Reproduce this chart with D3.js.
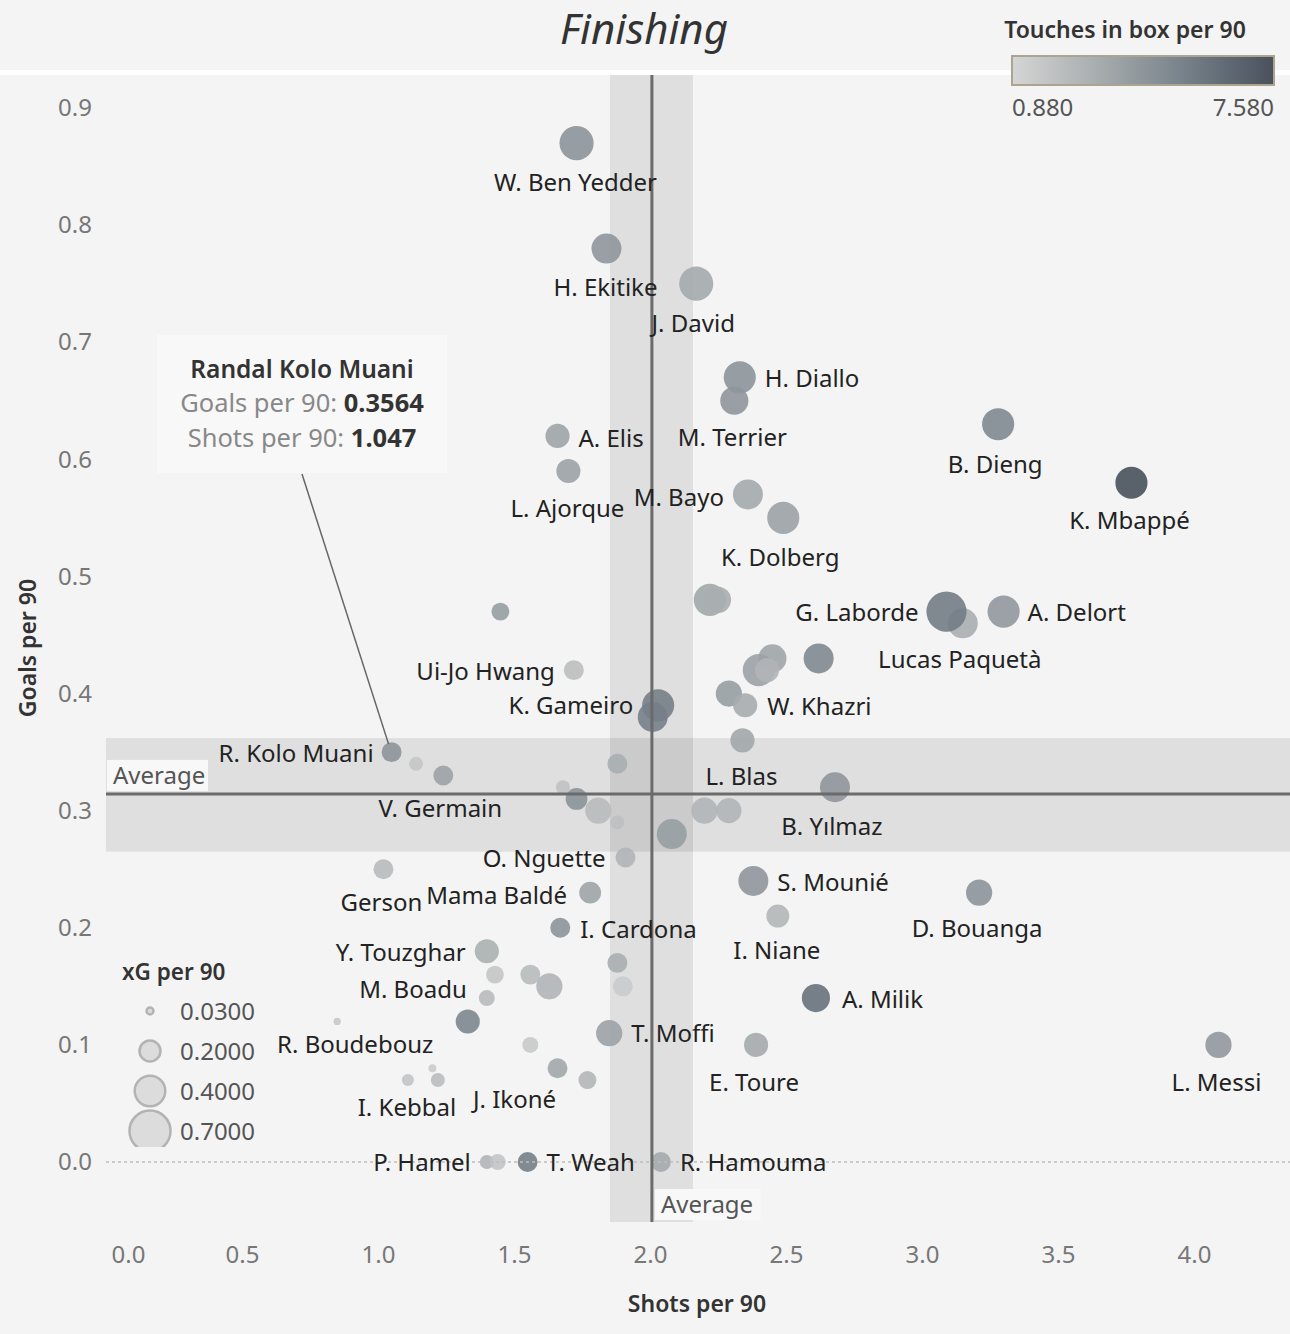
<!DOCTYPE html>
<html>
<head>
<meta charset="utf-8">
<script src="https://cdn.jsdelivr.net/npm/d3@7"></script>
<style>
  html, body { margin: 0; padding: 0; background: #f4f4f4; }
  svg { display: block; }
  text { font-family: "Noto Sans", "Open Sans", sans-serif; }
</style>
</head>
<body>
<svg id="chart" width="1290" height="1334"></svg>
<script>
// ---------------- DATA ----------------
const players = ["W. Ben Yedder","H. Ekitike","J. David","H. Diallo","M. Terrier","B. Dieng","K. Mbappé","A. Elis","L. Ajorque","M. Bayo",
  "K. Dolberg","","","","Lucas Paquetà","G. Laborde","A. Delort","","","",
  "","","W. Khazri","Ui-Jo Hwang","","K. Gameiro","L. Blas","R. Kolo Muani","","V. Germain",
  "","","","","","","","","B. Yılmaz","O. Nguette",
  "Gerson","Mama Baldé","S. Mounié","D. Bouanga","I. Niane","I. Cardona","Y. Touzghar","","","",
  "M. Boadu","","","J. Ikoné","","","","","","T. Moffi",
  "R. Boudebouz","I. Kebbal","A. Milik","E. Toure","L. Messi","P. Hamel","","T. Weah","R. Hamouma"];
const shotsPer90 = [1.73,1.84,2.17,2.33,2.31,3.28,3.77,1.66,1.70,2.36,
  2.49,1.45,2.22,2.25,3.15,3.09,3.30,2.45,2.40,2.43,
  2.62,2.29,2.35,1.72,2.01,2.03,2.34,1.05,1.14,1.24,
  1.68,1.73,1.81,1.88,1.88,2.08,2.20,2.29,2.68,1.91,
  1.02,1.78,2.38,3.21,2.47,1.67,1.40,1.43,1.56,1.63,
  1.40,1.33,1.56,1.66,1.77,1.20,1.22,1.88,1.90,1.85,
  0.85,1.11,2.61,2.39,4.09,1.40,1.44,1.55,2.04];
const goalsPer90 = [0.87,0.78,0.75,0.67,0.65,0.63,0.58,0.62,0.59,0.57,
  0.55,0.47,0.48,0.48,0.46,0.47,0.47,0.43,0.42,0.42,
  0.43,0.40,0.39,0.42,0.38,0.39,0.36,0.35,0.34,0.33,
  0.32,0.31,0.30,0.29,0.34,0.28,0.30,0.30,0.32,0.26,
  0.25,0.23,0.24,0.23,0.21,0.20,0.18,0.16,0.16,0.15,
  0.14,0.12,0.10,0.08,0.07,0.08,0.07,0.17,0.15,0.11,
  0.12,0.07,0.14,0.10,0.10,0.00,0.00,0.00,0.00];
const xgPer90 = [0.44,0.34,0.44,0.39,0.30,0.39,0.39,0.22,0.22,0.34,
  0.39,0.12,0.39,0.26,0.34,0.61,0.39,0.30,0.39,0.22,
  0.34,0.26,0.22,0.15,0.34,0.39,0.22,0.15,0.074,0.15,
  0.074,0.18,0.26,0.074,0.15,0.34,0.26,0.24,0.34,0.15,
  0.15,0.18,0.34,0.26,0.20,0.15,0.22,0.12,0.15,0.26,
  0.097,0.22,0.097,0.15,0.123,0.024,0.074,0.15,0.15,0.26,
  0.02,0.055,0.30,0.22,0.26,0.074,0.097,0.15,0.15];
const touchesInBox = [4.3,4.2,3.2,4.3,4.2,4.9,7.58,3.5,3.6,3.2,
  3.6,3.8,3.3,3.0,3.0,5.5,4.1,3.4,3.6,2.6,
  4.9,3.8,3.1,2.1,5.3,5.4,3.3,4.3,1.7,3.6,
  1.9,4.4,2.3,2.0,3.0,3.8,2.6,2.6,4.2,2.6,
  2.3,3.5,4.2,4.3,2.5,4.3,2.9,1.7,2.3,2.6,
  2.3,5.0,1.5,3.3,2.5,1.4,2.2,3.0,1.4,3.6,
  1.6,1.8,6.0,3.2,4.1,2.6,1.8,5.4,3.2];
const xTicks = [0.0,0.5,1.0,1.5,2.0,2.5,3.0,3.5,4.0];
const yTicks = [0.0,0.1,0.2,0.3,0.4,0.5,0.6,0.7,0.8,0.9];
const avgShots = 2.007, avgShotsBand = [1.853, 2.158];
const avgGoals = 0.3143, avgGoalsBand = [0.265, 0.362];
const sizeLegendValues = [0.03, 0.2, 0.4, 0.7];
const colorDomain = [0.88, 7.58];
const highlight = {name: "Randal Kolo Muani", goals: "0.3564", shots: "1.047", ref: "R. Kolo Muani"};

// -------------- LAYOUT (label placement: dx, dy, anchor) --------------
const labelPlace = {
  "W. Ben Yedder":[-1,39,"middle"], "H. Ekitike":[-1,39,"middle"], "J. David":[-3,40,"middle"],
  "H. Diallo":[25,1,"start"], "M. Terrier":[-2,37,"middle"], "B. Dieng":[-3,40,"middle"],
  "K. Mbappé":[-2,38,"middle"], "A. Elis":[21,2,"start"], "L. Ajorque":[-1,37,"middle"],
  "M. Bayo":[-24,3,"end"], "K. Dolberg":[-3,39,"middle"], "G. Laborde":[-28,1,"end"],
  "Lucas Paquetà":[-3,36,"middle"], "A. Delort":[24,1,"start"], "Ui-Jo Hwang":[-19,1,"end"],
  "K. Gameiro":[-25,0,"end"], "W. Khazri":[22,1,"start"], "L. Blas":[-1,36,"middle"],
  "R. Kolo Muani":[-18,1,"end"], "V. Germain":[-3,33,"middle"], "B. Yılmaz":[-3,39,"middle"],
  "O. Nguette":[-20,1,"end"], "Gerson":[-2,33,"middle"], "Mama Baldé":[-23,3,"end"],
  "S. Mounié":[24,1,"start"], "D. Bouanga":[-2,36,"middle"], "I. Niane":[-1,34,"middle"],
  "I. Cardona":[20,2,"start"], "Y. Touzghar":[-21,1,"end"], "M. Boadu":[-20,-9,"end"],
  "R. Boudebouz":[18,23,"middle"], "T. Moffi":[22,0,"start"], "A. Milik":[26,1,"start"],
  "E. Toure":[-2,37,"middle"], "L. Messi":[-2,37,"middle"], "I. Kebbal":[-1,27,"middle"],
  "J. Ikoné":[-43,31,"middle"], "P. Hamel":[-16,0,"end"], "T. Weah":[19,0,"start"],
  "R. Hamouma":[19,0,"start"]
};

const W = 1290, H = 1334;
const FS = 24;
const plot = {left: 106, right: 1290, top: 75, bottom: 1222};
const svg = d3.select("#chart");

const x = d3.scaleLinear().domain([0, 4]).range([106, 1194]);
const y = d3.scaleLinear().domain([0, 0.9]).range([1162, 108]);
const r = d3.scaleSqrt().domain([0, 0.2]).range([0, 11.5]);
const colorInterp = d3.interpolateRgbBasis(["#d5d5d5", "#a7acad", "#75808a", "#48515c"]);
const color = d3.scaleSequential(colorInterp).domain(colorDomain);

const data = players.map((p, i) => ({name: p, shots: shotsPer90[i], goals: goalsPer90[i], xg: xgPer90[i], touches: touchesInBox[i]}));

// background
svg.append("rect").attr("width", W).attr("height", H).attr("fill", "#f4f4f4");

// title
svg.append("text").attr("x", 644).attr("y", 44).attr("text-anchor", "middle")
  .attr("font-size", 42).attr("font-style", "italic").attr("fill", "#333").text("Finishing");
// white separator
svg.append("rect").attr("x", 0).attr("y", 70).attr("width", W).attr("height", 5).attr("fill", "#ffffff");

// colour legend
svg.append("text").attr("x", 1125).attr("y", 38).attr("text-anchor", "middle")
  .attr("font-size", 23).attr("font-weight", 600).attr("fill", "#333").text("Touches in box per 90");
const defs = svg.append("defs");
const grad = defs.append("linearGradient").attr("id", "cgrad");
d3.range(0, 1.0001, 0.1).forEach(t => grad.append("stop").attr("offset", t).attr("stop-color", colorInterp(t)));
svg.append("rect").attr("x", 1012).attr("y", 56).attr("width", 262).attr("height", 29)
  .attr("fill", "url(#cgrad)").attr("stroke", "#aba58f").attr("stroke-width", 2);
svg.append("text").attr("x", 1012).attr("y", 116).attr("font-size", FS).attr("fill", "#555").text(d3.format(".3f")(colorDomain[0]));
svg.append("text").attr("x", 1274).attr("y", 116).attr("text-anchor", "end").attr("font-size", FS).attr("fill", "#555").text(d3.format(".3f")(colorDomain[1]));

// plot clip
defs.append("clipPath").attr("id", "plotclip").append("rect")
  .attr("x", plot.left).attr("y", plot.top).attr("width", plot.right - plot.left).attr("height", plot.bottom - plot.top);
const g = svg.append("g").attr("clip-path", "url(#plotclip)");

// bands
g.append("rect").attr("x", x(avgShotsBand[0])).attr("y", plot.top)
  .attr("width", x(avgShotsBand[1]) - x(avgShotsBand[0])).attr("height", plot.bottom - plot.top)
  .attr("fill", "#000").attr("fill-opacity", 0.085);
g.append("rect").attr("x", plot.left).attr("y", y(avgGoalsBand[1]))
  .attr("width", plot.right - plot.left).attr("height", y(avgGoalsBand[0]) - y(avgGoalsBand[1]))
  .attr("fill", "#000").attr("fill-opacity", 0.085);

// circles
g.selectAll("circle.pt").data(data).enter().append("circle").attr("class", "pt")
  .attr("cx", d => x(d.shots)).attr("cy", d => y(d.goals)).attr("r", d => r(d.xg))
  .attr("fill", d => color(d.touches)).attr("fill-opacity", 0.9);

// zero line
g.append("line").attr("x1", plot.left).attr("x2", plot.right).attr("y1", y(0)).attr("y2", y(0))
  .attr("stroke", "#bdbdbd").attr("stroke-width", 1.5).attr("stroke-dasharray", "3,3");

// average lines
g.append("line").attr("x1", x(avgShots)).attr("x2", x(avgShots)).attr("y1", plot.top).attr("y2", plot.bottom)
  .attr("stroke", "#6b6b6b").attr("stroke-width", 3);
g.append("line").attr("x1", plot.left).attr("x2", plot.right).attr("y1", y(avgGoals)).attr("y2", y(avgGoals))
  .attr("stroke", "#6b6b6b").attr("stroke-width", 3);

// Average labels
function avgLabel(xx, yy, w) {
  g.append("rect").attr("x", xx).attr("y", yy).attr("width", w).attr("height", 31).attr("fill", "#f8f8f8");
  g.append("text").attr("x", xx + 6).attr("y", yy + 24).attr("font-size", FS).attr("fill", "#555").text("Average");
}
avgLabel(107, y(avgGoals) - 34, 101);
avgLabel(x(avgShots) + 3, 1189, 106);

// point labels
g.selectAll("text.lbl").data(data.filter(d => d.name && labelPlace[d.name])).enter().append("text").attr("class", "lbl")
  .attr("x", d => x(d.shots) + labelPlace[d.name][0])
  .attr("y", d => y(d.goals) + labelPlace[d.name][1])
  .attr("dy", "0.36em")
  .attr("text-anchor", d => labelPlace[d.name][2])
  .attr("font-size", FS).attr("fill", "#222").text(d => d.name);

// y axis
const yAxis = svg.append("g").attr("transform", `translate(${92},0)`)
  .call(d3.axisLeft(y).tickValues(yTicks).tickFormat(d3.format(".1f")).tickSize(0).tickPadding(0));
yAxis.select(".domain").remove();
yAxis.selectAll("text").attr("font-size", FS).attr("fill", "#777").attr("font-family", "Noto Sans");

// x axis
const xAxis = svg.append("g").attr("transform", `translate(0,${1246})`)
  .call(d3.axisBottom(x).tickValues(xTicks).tickFormat(d3.format(".1f")).tickSize(0).tickPadding(0));
xAxis.select(".domain").remove();
xAxis.selectAll("text").attr("font-size", FS).attr("fill", "#777").attr("font-family", "Noto Sans");
xAxis.selectAll(".tick").filter(d => d === 0).select("text").attr("text-anchor", "start").attr("x", 5);

// axis titles
svg.append("text").attr("x", 697).attr("y", 1312).attr("text-anchor", "middle")
  .attr("font-size", 23).attr("font-weight", 600).attr("fill", "#333").text("Shots per 90");
svg.append("text").attr("transform", "translate(36,648) rotate(-90)").attr("text-anchor", "middle")
  .attr("font-size", 23).attr("font-weight", 600).attr("fill", "#333").text("Goals per 90");

// size legend
svg.append("text").attr("x", 122).attr("y", 980).attr("font-size", 22.5).attr("font-weight", 600).attr("fill", "#333").text("xG per 90");
defs.append("clipPath").attr("id", "legclip").append("rect").attr("x", 110).attr("y", 990).attr("width", 200).attr("height", 157);
const sl = svg.append("g");
sizeLegendValues.forEach((v, i) => {
  const cy = 1011 + i * 40;
  sl.append("circle").attr("cx", 150).attr("cy", cy).attr("r", r(v) - 1)
    .attr("fill", "#dcdcdc").attr("stroke", "#b3b3b3").attr("stroke-width", 2.5)
    .attr("clip-path", "url(#legclip)");
  sl.append("text").attr("x", 180).attr("y", cy).attr("dy", "0.36em").attr("font-size", FS).attr("fill", "#555")
    .text(d3.format(".4f")(v));
});

// highlight annotation
const hp = data.find(d => d.name === highlight.ref);
svg.append("line").attr("x1", 302).attr("y1", 474).attr("x2", x(hp.shots) - 3).attr("y2", y(hp.goals) - 8)
  .attr("stroke", "#666").attr("stroke-width", 1.5);
svg.append("rect").attr("x", 157).attr("y", 335).attr("width", 290).attr("height", 138).attr("fill", "#f8f8f8");
const ann = svg.append("text").attr("text-anchor", "middle").attr("font-size", 25.5);
ann.append("tspan").attr("x", 302).attr("y", 378).attr("font-weight", 600).attr("font-size", 24.5).attr("fill", "#333").text(highlight.name);
const l2 = ann.append("tspan").attr("x", 302).attr("y", 412);
l2.append("tspan").attr("fill", "#888").text("Goals per 90: ");
l2.append("tspan").attr("fill", "#333").attr("font-weight", 700).text(highlight.goals);
const l3 = ann.append("tspan").attr("x", 302).attr("y", 447);
l3.append("tspan").attr("fill", "#888").text("Shots per 90: ");
l3.append("tspan").attr("fill", "#333").attr("font-weight", 700).text(highlight.shots);
</script>
</body>
</html>
